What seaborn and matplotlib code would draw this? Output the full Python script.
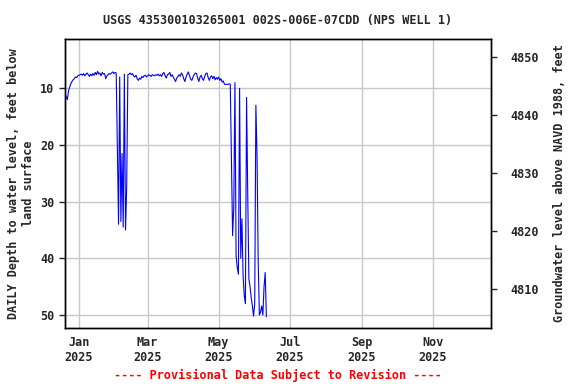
import numpy as np
import pandas as pd
import matplotlib
matplotlib.use("Agg")
import matplotlib.pyplot as plt
import matplotlib.dates as mdates
import seaborn as sns

title = "USGS 435300103265001 002S-006E-07CDD (NPS WELL 1)"
left_label = "DAILY Depth to water level, feet below\nland surface"
right_label = "Groundwater level above NAVD 1988, feet"
footer = "---- Provisional Data Subject to Revision ----"

start_date = "2024-12-20"
depth_start = [10.9, 11.5, 12.0, 10.5, 9.8, 9.2, 8.8, 8.5, 8.3, 8.0, 8.1, 7.8, 7.7]
depth_jan = [7.6, 7.5, 7.7, 7.4, 7.8, 7.5, 7.3, 7.6, 7.9, 7.5, 7.8, 7.4, 7.7, 7.2, 7.6,
             7.0, 7.5, 7.3, 7.8, 7.2, 7.5, 7.4, 8.3, 7.8, 7.6, 7.4, 7.5, 7.3, 7.1, 7.4,
             7.2, 7.3]
depth_feb_spikes = [21.0, 34.0, 8.0, 33.5, 21.5, 34.5, 7.5, 35.0, 27.5, 7.6]
depth_spring = [7.5, 7.3, 7.6, 7.4, 7.8, 8.0, 7.7, 8.3, 8.6, 8.2, 8.4, 7.9, 8.1, 7.8,
                7.7, 8.0, 7.8, 7.6, 7.7, 7.9, 7.6, 7.7, 7.8, 7.6, 7.7, 7.5, 7.8, 7.6,
                7.9, 7.4, 7.2, 7.8, 8.2, 7.6, 7.5, 7.2, 7.9, 7.6, 8.0, 8.4, 8.8, 8.2,
                7.9, 7.6, 7.9, 7.3, 7.6, 8.3, 8.8, 8.0, 7.5, 7.1, 7.8, 8.4, 8.6, 8.0,
                7.6, 7.3, 7.4, 8.2, 8.8, 8.0, 7.7, 8.3, 8.6, 7.9, 7.4, 7.3, 8.1, 8.6,
                8.0, 7.8, 8.3, 7.9, 8.5, 8.1, 8.4, 8.0, 8.6, 8.3, 8.9, 8.7,
                9.3, 9.3, 9.3, 9.3, 9.2, 9.3]
depth_may_june = [22.6, 36.0, 31.0, 9.0, 39.6, 41.6, 42.8, 10.0, 40.0, 33.0, 43.0,
                  46.6, 48.0, 11.6, 28.8, 43.7, 45.0, 47.0, 48.4, 50.2, 48.0, 13.0,
                  22.0, 40.7, 50.0, 49.5, 48.4, 50.0, 45.0, 42.5, 50.3]

depth = depth_start + depth_jan + depth_feb_spikes + depth_spring + depth_may_june
dates = pd.date_range(start_date, periods=len(depth), freq="D")
df = pd.DataFrame({"date": dates, "depth": depth})

left_ticks = [10, 20, 30, 40, 50]
right_ticks = [4810, 4820, 4830, 4840, 4850]

sns.set_style("white")
plt.rcParams['font.family'] = ['DejaVu Sans Mono', 'DejaVu Sans']
plt.rcParams['font.weight'] = 'bold'
plt.rcParams['axes.labelweight'] = 'bold'
plt.rcParams['axes.titleweight'] = 'bold'
fs = 8.5

fig = plt.figure(figsize=(5.76, 3.84), dpi=100)
ax = fig.add_axes([65/576, 1-328/384, 426/576, 289/384])
sns.lineplot(data=df, x="date", y="depth", ax=ax, color="#0000FF", lw=0.8)

ax.set_xlim(pd.Timestamp("2024-12-20"), pd.Timestamp("2025-12-21"))
ax.set_ylim(52.29, 1.30)
ax.set_yticks(left_ticks)
ax.xaxis.set_major_locator(mdates.MonthLocator(bymonth=[1, 3, 5, 7, 9, 11]))
ax.xaxis.set_major_formatter(mdates.DateFormatter("%b\n%Y"))
ax.grid(True, color="#c8c8c8", lw=1)
ax.set_xlabel("")
ax.set_ylabel(left_label, fontsize=fs, labelpad=4)
ax.tick_params(axis='x', length=0, pad=6, labelsize=fs)
ax.tick_params(axis='y', length=4, width=1, direction='out', labelsize=fs, left=True)
for s in ax.spines.values():
    s.set_color('black')
    s.set_linewidth(1)
ax.set_title(title, fontsize=fs, pad=11)

ax2 = ax.twinx()
ax2.set_ylim(4803.19, 4853.09)
ax2.set_yticks(right_ticks)
ax2.tick_params(axis='y', length=4, width=1, direction='out', labelsize=fs, right=True, pad=10)
ax2.set_ylabel(right_label, fontsize=fs, labelpad=10)
ax2.grid(False)
for s in ax2.spines.values():
    s.set_color('black')
    s.set_linewidth(1)

fig.text(278/576, 1-375/384, footer, color='red', fontsize=fs, ha='center', va='center',
         fontweight='bold')

fig.savefig("out.png", dpi=100)
